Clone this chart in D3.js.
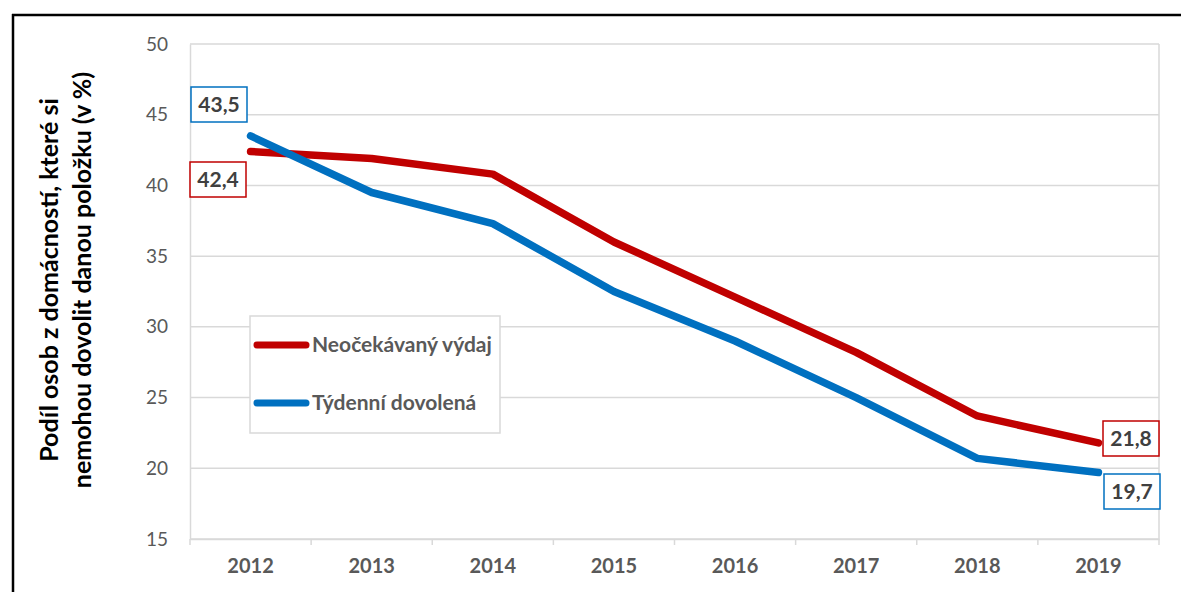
<!DOCTYPE html>
<html>
<head>
<meta charset="utf-8">
<style>
  body { margin: 0; background: #fff; }
  text { font-family: Lato, "Open Sans", sans-serif; }
</style>
</head>
<body>
<svg id="chart" width="1181" height="592"></svg>
<script src="https://cdn.jsdelivr.net/npm/d3@7"></script>
<script>
// data
const years = ["2012", "2013", "2014", "2015", "2016", "2017", "2018", "2019"]
const vydaj = [42.4, 41.9, 40.8, 36.0, 32.1, 28.2, 23.7, 21.8]
const dovolena = [43.5, 39.5, 37.3, 32.5, 29.0, 25.0, 20.7, 19.7]
const yTicks = [15, 20, 25, 30, 35, 40, 45, 50]
const seriesNames = ["Neočekávaný výdaj", "Týdenní dovolená"]

const svg = d3.select("#chart")
const pLeft = 190, pRight = 1159, pTop = 44, pBottom = 539

let x = d3.scaleBand().domain(years).range([pLeft, pRight])
let y = d3.scaleLinear().domain([15, 50]).range([pBottom, pTop])

// outer frame (only top and left show in the picture)
svg.append("line").attr("x1", 12).attr("x2", 1181).attr("y1", 15).attr("y2", 15)
    .attr("stroke", "#000").attr("stroke-width", 2.5)
svg.append("line").attr("x1", 13).attr("x2", 13).attr("y1", 14).attr("y2", 592)
    .attr("stroke", "#000").attr("stroke-width", 2.5)

// gridlines
svg.append("g").selectAll("line").data(yTicks).join("line")
    .attr("x1", pLeft).attr("x2", pRight)
    .attr("y1", d => y(d)).attr("y2", d => y(d))
    .attr("stroke", "#d9d9d9").attr("stroke-width", 1.5)
svg.append("line").attr("x1", pRight).attr("x2", pRight).attr("y1", pTop).attr("y2", pBottom)
    .attr("stroke", "#d9d9d9").attr("stroke-width", 1.5)

// y axis
let yAxis = d3.axisLeft(y).tickValues(yTicks).tickSize(0).tickPadding(22)
let gy = svg.append("g").attr("transform", `translate(${pLeft},0)`).call(yAxis)
gy.select(".domain").attr("stroke", "#d9d9d9").attr("stroke-width", 1.5)
gy.selectAll("text").attr("font-size", 19).attr("fill", "#595959")
    .style("font-family", "Lato, sans-serif")

// x axis, ticks between categories
let gx = svg.append("g").attr("transform", `translate(0,${pBottom})`)
    .call(d3.axisBottom(x).tickSize(0).tickPadding(20))
gx.select(".domain").attr("stroke", "#d9d9d9").attr("stroke-width", 1.5)
gx.selectAll("text").attr("font-size", 20).attr("font-weight", "bold").attr("fill", "#595959")
    .style("font-family", "Lato, sans-serif")
svg.append("g").selectAll("line").data(years).join("line")
    .attr("x1", d => x(d)).attr("x2", d => x(d))
    .attr("y1", pBottom).attr("y2", pBottom + 6)
    .attr("stroke", "#d9d9d9").attr("stroke-width", 1.5)
svg.append("line").attr("x1", pRight).attr("x2", pRight).attr("y1", pBottom).attr("y2", pBottom + 6)
    .attr("stroke", "#d9d9d9").attr("stroke-width", 1.5)

// y label
let yl = svg.append("text").attr("transform", "translate(58,280) rotate(-90)")
    .attr("text-anchor", "middle").attr("font-size", 25).attr("font-weight", "bold").attr("fill", "#000")
yl.append("tspan").attr("x", 0).attr("dy", 0).text("Podíl osob z domácností, které si")
yl.append("tspan").attr("x", 0).attr("dy", 33).text("nemohou dovolit danou položku (v %)")

// lines
const colors = ["#c00000", "#0070c0"]
let line = d3.line().x((d, i) => x(years[i]) + x.bandwidth() / 2).y(d => y(d))
;[vydaj, dovolena].forEach((s, k) => {
    svg.append("path").attr("d", line(s)).attr("fill", "none")
        .attr("stroke", colors[k]).attr("stroke-width", 7.5).attr("stroke-linecap", "round")
        .attr("stroke-linejoin", "round")
})

// legend
svg.append("rect").attr("x", 250).attr("y", 316).attr("width", 250).attr("height", 117)
    .attr("fill", "#fff").attr("stroke", "#d9d9d9").attr("stroke-width", 1.5)
seriesNames.forEach((n, k) => {
    let ly = 345 + k * 58
    svg.append("line").attr("x1", 257).attr("x2", 306).attr("y1", ly).attr("y2", ly)
        .attr("stroke", colors[k]).attr("stroke-width", 7).attr("stroke-linecap", "round")
    svg.append("text").attr("x", 312).attr("y", ly + 7).attr("font-size", 21).attr("font-weight", "bold")
        .attr("fill", "#595959").text(n)
})

// value labels at the ends
function fmt(v) { return d3.format(".1f")(v).replace(".", ",") }
const labels = [
    { v: dovolena[0], c: colors[1], cx: 219, cy: 104 },
    { v: vydaj[0], c: colors[0], cx: 218, cy: 179 },
    { v: vydaj[7], c: colors[0], cx: 1131, cy: 438 },
    { v: dovolena[7], c: colors[1], cx: 1132, cy: 491 }
]
labels.forEach(l => {
    svg.append("rect").attr("x", l.cx - 28).attr("y", l.cy - 17).attr("width", 56).attr("height", 35)
        .attr("fill", "#fff").attr("stroke", l.c).attr("stroke-width", 1.5)
    svg.append("text").attr("x", l.cx).attr("y", l.cy + 8).attr("text-anchor", "middle")
        .attr("font-size", 21).attr("font-weight", "bold").attr("fill", "#404040").text(fmt(l.v))
})
</script>
</body>
</html>
